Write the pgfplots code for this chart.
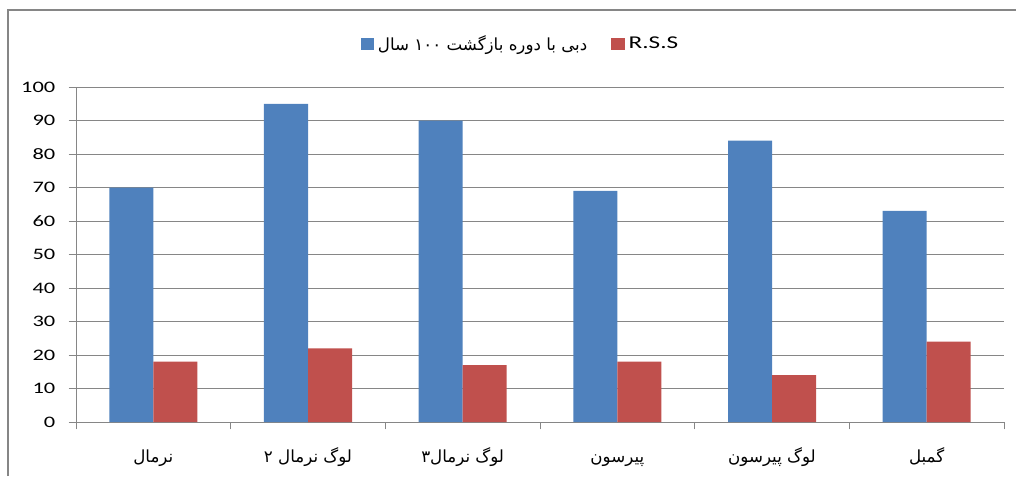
\documentclass[border=0pt]{standalone}
\usepackage{fontspec}
\setmainfont{Carlito}[FakeStretch=1.4]
\newfontfamily\arabicfont[Script=Arabic]{DejaVu Sans}
\TeXXeTstate=1
\usepackage{pgfplots}
\pgfplotsset{compat=1.18}
\definecolor{xblue}{HTML}{4F81BD}
\definecolor{xred}{HTML}{C0504D}
\definecolor{xgrid}{HTML}{868686}
\newcommand{\fa}[1]{{\arabicfont\fontsize{12.5}{14}\selectfont\beginR #1\endR}}
\begin{document}
\begin{tikzpicture}
\useasboundingbox (0,0) rectangle (762pt,357pt);
\draw[xgrid, line width=1.5pt] (6pt,0) -- (6pt,349.5pt) -- (762pt,349.5pt);
\begin{axis}[
  at={(57pt,40.5pt)}, anchor=south west,
  scale only axis, width=696pt, height=251.25pt,
  xmin=-0.5, xmax=5.5, ymin=0, ymax=100,
  ytick={0,10,...,100},
  ymajorgrids, grid style={xgrid, line width=0.6pt},
  axis x line*=bottom, axis y line*=left,
  axis line style={xgrid, line width=0.6pt, -},
  tick style={xgrid, line width=0.6pt},
  tick align=outside, major tick length=5.5pt,
  ybar=0pt, bar width=0.2845,
  xtick={-0.5,0.5,...,5.5}, xticklabel=\empty,
  extra x ticks={0,1,2,3,4,5},
  extra x tick labels={\fa{نرمال},\fa{لوگ نرمال ۲},\fa{لوگ نرمال۳},\fa{پیرسون},\fa{لوگ پیرسون},\fa{گمبل}},
  extra x tick style={major tick length=0pt, xticklabel style={text height=10pt, text depth=4pt, yshift=-16.5pt}},
  /pgf/number format/assume math mode=true,
  ticklabel style={font=\fontsize{12}{14}\selectfont, text=black},
  yticklabel style={xshift=-6.5pt},
  legend style={at={(0.48,1.128)}, anchor=center, draw=none, fill=none,
    legend columns=2, font=\fontsize{13.5}{15}\selectfont,
    nodes={inner xsep=3pt},
    /tikz/every even column/.append style={column sep=15pt}},
  legend image code/.code={\fill[#1] (0pt,-4.75pt) rectangle (10pt,4.75pt);},
]
\addplot[fill=xblue, draw=none] coordinates {(0,70) (1,95) (2,90) (3,69) (4,84) (5,63)};
\addlegendentry{\fa{دبی با دوره بازگشت ۱۰۰ سال}}
\addplot[fill=xred, draw=none] coordinates {(0,18) (1,22) (2,17) (3,18) (4,14) (5,24)};
\addlegendentry{R.S.S}
\end{axis}
\end{tikzpicture}
\end{document}
